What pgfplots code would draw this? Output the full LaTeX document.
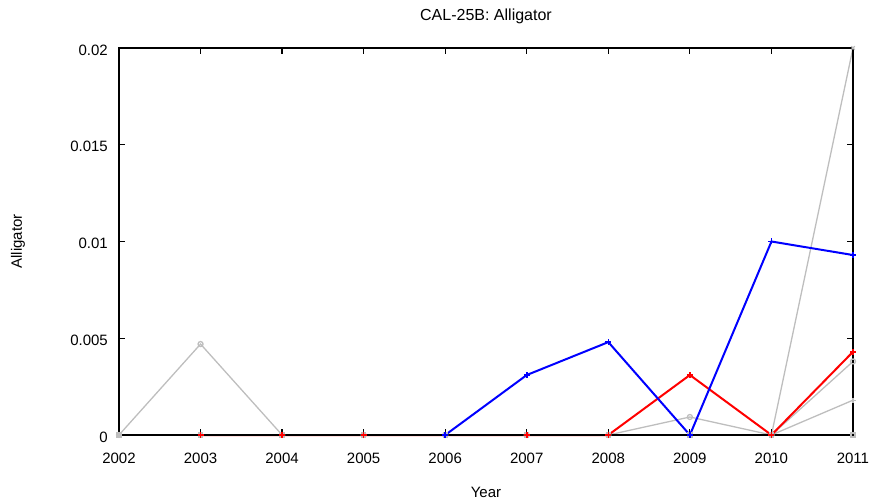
\documentclass[border=0pt]{standalone}
\usepackage{pgfplots}
\pgfplotsset{compat=1.18}
\usepackage{fontspec}
\setmainfont{Liberation Sans}
\definecolor{lgray}{RGB}{190,190,190}
\begin{document}
\fontsize{15}{18}\selectfont
\begin{tikzpicture}[x=1pt,y=1pt]
\begin{axis}[
  name=ax,
  scale only axis,
  width=734pt, height=387pt,
  xmin=2002, xmax=2011, ymin=0, ymax=0.02,
  xtick={2002,...,2011},
  xticklabels={2002,2003,2004,2005,2006,2007,2008,2009,2010,2011},
  ytick={0,0.005,0.01,0.015,0.02},
  yticklabels={0,0.005,0.01,0.015,0.02},
  scaled y ticks=false,
  tick align=inside,
  major tick length=6pt,
  tick style={black, line width=1.2pt},
  axis line style={line width=1.6pt},
  clip=false,
  axis on top,
  xticklabel style={yshift=-13pt},
  yticklabel style={xshift=-6pt, yshift=-2pt},
  title={\fontsize{16}{18}\selectfont CAL-25B: Alligator},
  title style={at={(rel axis cs:0.5,1)}, anchor=center, yshift=26pt},
  xlabel={Year},
  xlabel style={at={(rel axis cs:0.5,0)}, anchor=center, yshift=-57pt},
  ylabel={Alligator},
  ylabel style={at={(rel axis cs:0,0.5)}, anchor=center, yshift=101pt},
  every axis plot/.append style={mark size=3pt},
]
% gray series
\addplot[lgray, line width=1.3pt, mark=o, mark size=2.5pt] coordinates {
(2002,0) (2003,0.0047) (2004,0) (2005,0) (2006,0) (2007,0) (2008,0) (2009,0.00093) (2010,0) (2011,0.0038)};
\addplot[lgray, line width=1.3pt, mark=x, mark size=2.5pt] coordinates {
(2002,0) (2003,0) (2004,0) (2005,0) (2006,0) (2007,0) (2008,0) (2009,0) (2010,0) (2011,0.02)};
\addplot[lgray, line width=1.3pt, mark=+, mark size=2.5pt] coordinates {
(2002,0) (2003,0) (2004,0) (2005,0) (2006,0) (2007,0) (2008,0) (2009,0) (2010,0) (2011,0.0018)};
\addplot[lgray, line width=1.3pt, mark=square, mark size=2pt] coordinates {
(2002,0) (2003,0) (2004,0) (2005,0) (2006,0) (2007,0) (2008,0) (2009,0) (2010,0) (2011,0)};
% red
\addplot[red, line width=2pt, mark=+, mark options={line width=1.5pt}] coordinates {
(2003,0) (2004,0) (2005,0) (2006,0) (2007,0) (2008,0) (2009,0.0031) (2010,0) (2011,0.0043)};
% blue
\addplot[blue, line width=2pt, mark=+, mark options={line width=1.5pt}] coordinates {
(2006,0) (2007,0.0031) (2008,0.0048) (2009,0) (2010,0.01) (2011,0.0093)};
\end{axis}
\pgfresetboundingbox
\useasboundingbox (ax.south west) ++(-119pt,-68pt) rectangle ++(872pt,503pt);
\end{tikzpicture}
\end{document}
